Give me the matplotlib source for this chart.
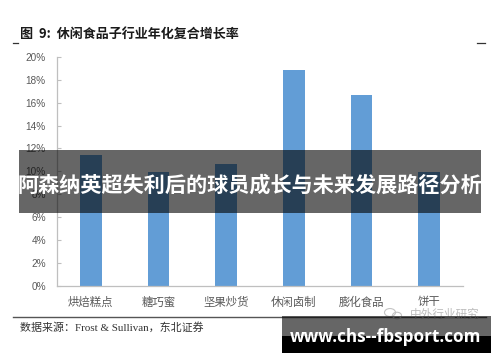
import matplotlib
matplotlib.use("Agg")
import matplotlib.pyplot as plt
from matplotlib.patches import Rectangle, Circle
from matplotlib.lines import Line2D
from matplotlib.ticker import FuncFormatter

plt.rcParams['font.family'] = ['Noto Sans CJK SC', 'DejaVu Sans']

# data
categories = ["烘焙糕点", "糖巧蜜", "坚果炒货", "休闲卤制", "膨化食品", "饼干"]
cagr = [11.4, 9.9, 10.6, 18.9, 16.7, 9.9]
y_ticks = [0, 2, 4, 6, 8, 10, 12, 14, 16, 18, 20]

title_text = "图  9:  休闲食品子行业年化复合增长率"
source_text = "数据来源：Frost & Sullivan，东北证券"
banner_text = "阿森纳英超失利后的球员成长与未来发展路径分析"
watermark_text = "中外行业研究"
url_text = "www.chs--fbsport.com"

W, H = 500, 362
bar_color = "#629dd6"
grey_text = "#595959"
axis_grey = "#bfbfbf"


def fx(px):
    return px / W


def fy(py):
    # pixel row from top -> figure fraction
    return 1 - py / H


fig = plt.figure(figsize=(5, 3.62), dpi=100)
ax = fig.add_axes([fx(57), fy(285.5), fx(463 - 57), (285.5 - 57) / H])

x = range(len(categories))
ax.bar(x, cagr, width=0.32, color=bar_color, zorder=2)
ax.set_xlim(-0.5, len(categories) - 0.5)
ax.set_ylim(0, 20)
ax.set_yticks(y_ticks)
ax.yaxis.set_major_formatter(FuncFormatter(lambda v, _: f"{int(v)}%"))
ax.set_xticks(list(x))
ax.set_xticklabels(categories)

for s in ["top", "right"]:
    ax.spines[s].set_visible(False)
for s in ["left", "bottom"]:
    ax.spines[s].set_color(axis_grey)
    ax.spines[s].set_linewidth(0.9)

ax.tick_params(axis="y", direction="in", length=3, width=0.8, color=axis_grey,
               labelsize=7.2, labelcolor=grey_text, pad=8)
ax.tick_params(axis="x", length=0, labelsize=8.2, labelcolor=grey_text, pad=8)
for lab in ax.get_yticklabels():
    lab.set_family(['Liberation Sans', 'DejaVu Sans'])

# title and small rule ends
fig.text(fx(20.5), fy(33.5), title_text, fontsize=9.4, fontweight="bold",
         color="#1a1a1a", va="center", ha="left")
fig.add_artist(Line2D([fx(12.7), fx(18.3)], [fy(42.5), fy(42.5)],
                      transform=fig.transFigure, color="#333333", lw=0.9))
fig.add_artist(Line2D([fx(477), fx(485)], [fy(42.5), fy(42.5)],
                      transform=fig.transFigure, color="#333333", lw=0.9))

# bottom rule and source
fig.add_artist(Line2D([fx(12.7), fx(486)], [fy(317.3), fy(317.3)],
                      transform=fig.transFigure, color="#555555", lw=1.0))
fig.text(fx(20), fy(327.8), source_text, fontsize=7.9, color="#333333",
         va="center", ha="left", family=['Liberation Serif', 'Noto Sans CJK SC'])

# watermark
fig.add_artist(Circle((fx(390), fy(312.5)), 5.5 / W, transform=fig.transFigure,
                      fill=False, ec="#c4c4c4", lw=0.8, zorder=3))
fig.add_artist(Circle((fx(397), fy(315.5)), 4.5 / W, transform=fig.transFigure,
                      fill=False, ec="#c4c4c4", lw=0.8, zorder=3))
fig.text(fx(410), fy(314), watermark_text, fontsize=8.4, color="#bdbdbd",
         va="center", ha="left", zorder=3)

# dark banner over the chart
fig.add_artist(Rectangle((fx(19), fy(212.7)), fx(481 - 19), (212.7 - 150) / H,
                         transform=fig.transFigure, facecolor="black",
                         alpha=0.6, lw=0, zorder=5))
fig.text(fx(250), fy(185), banner_text, fontsize=15.2, fontweight="bold",
         color="white", ha="center", va="center", zorder=6)

# url box bottom right
fig.add_artist(Rectangle((fx(282), fy(336)), fx(491 - 282), (336 - 315.7) / H,
                         transform=fig.transFigure, facecolor="black",
                         alpha=0.6, lw=0, zorder=5))
fig.add_artist(Rectangle((fx(282), fy(352.5)), fx(491 - 282), (352.5 - 336) / H,
                         transform=fig.transFigure, facecolor="black",
                         lw=0, zorder=5))
fig.text(fx(385.5), fy(336.5), url_text, fontsize=12.3, fontweight="bold",
         color="white", ha="center", va="center", zorder=6,
         family=['Open Sans', 'DejaVu Sans'])

fig.savefig("out.png", dpi=100, facecolor="white")
